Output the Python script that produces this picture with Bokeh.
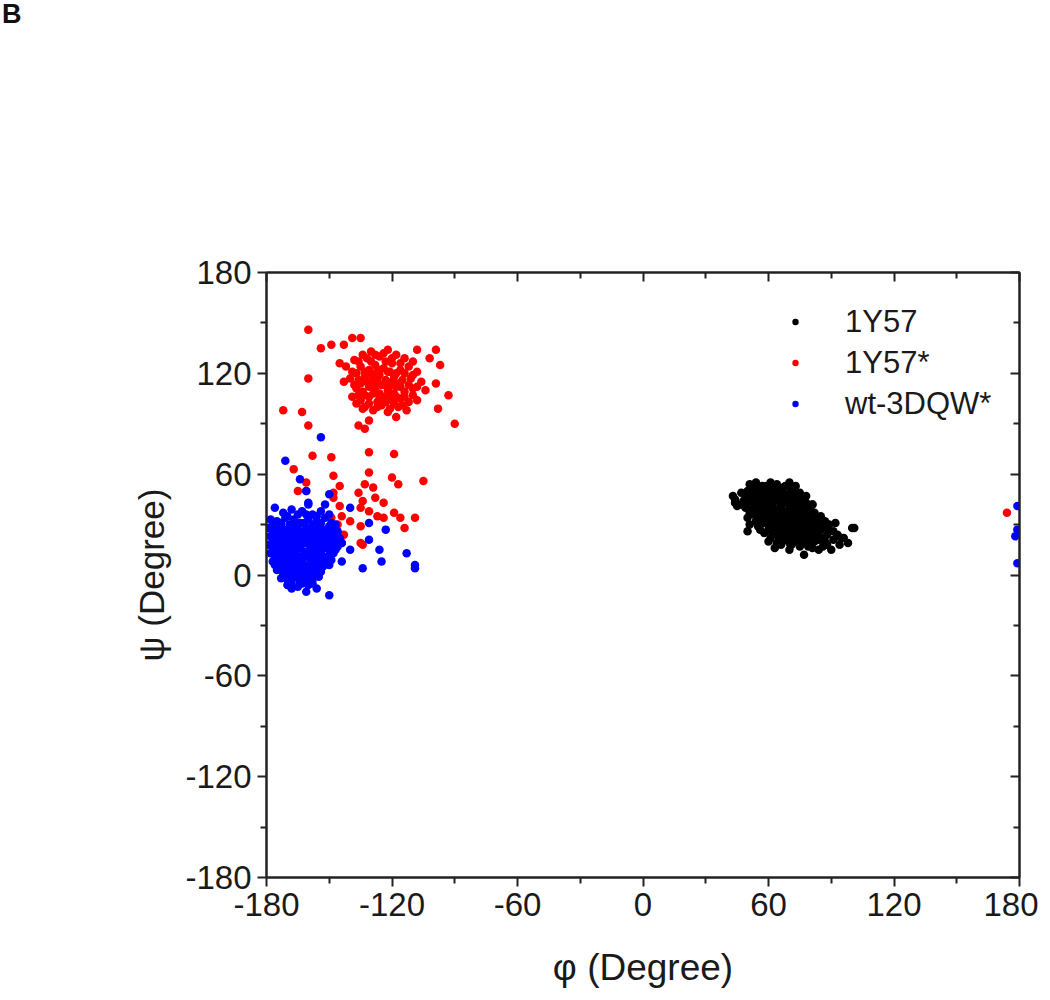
from bokeh.plotting import figure
from bokeh.models import (Range1d, LinearAxis, FixedTicker, Legend, LegendItem,
                          CustomJSTickFormatter, Div)
from bokeh.layouts import column
from bokeh.embed import file_html
from bokeh.resources import INLINE

# ---------------- data (phi, psi in degrees) ----------------
black_phi = [51,54,57,61,64,67,70,73,
             47,50,53,55,58,60,63,66,69,71,75,78,
             44,48,51,53,56,59,61,63,65,68,70,72,75,78,81,
             45,49,52,54,57,59,62,64,66,68,70,72,74,76,79,82,
             50,53,56,58,60,62,65,67,69,71,73,75,77,80,84,87,
             51,55,58,61,63,66,68,70,72,74,76,79,82,85,89,92,
             50,58,62,65,67,70,72,74,77,80,83,86,93,101,
             60,64,68,71,73,76,79,82,88,98,
             63,70,77,84,90,
             60,62,58,66,64,67,69,71,73,63,61,57,55,65,71,76,74,78,80,68,66,62,59,72,56,54,70,75,85,82,
             43,44,81,93,100,96,
             52,56,59,62,65,68,72,
             49,52,57,61,64,67,70,74,77,
             47,50,55,58,62,66,69,73,77,80,
             51,55,58,61,63,66,70,72,75,78,81,85,
             54,57,60,64,67,70,73,75,78,81,84,88,
             56,60,64,67,69,72,75,78,81,84,88,91,
             61,65,69,73,76,79,84,87,91,95,
             66,70,75,81,86,94]
black_psi = [54,55,53,55,54,52,55,53,
             49,50,51,48,50,51,49,50,48,51,49,47,
             45,44,46,43,45,46,43,46,44,45,42,46,44,43,42,
             41,40,39,41,38,40,41,38,40,37,40,38,41,38,39,37,
             34,36,35,33,36,34,35,33,36,34,32,35,33,34,33,32,
             30,29,31,29,31,30,28,31,29,27,30,28,29,27,30,31,
             26,25,24,26,23,25,24,22,25,23,24,22,24,28,
             20,19,21,18,20,19,17,20,18,19,
             16,15,12,15,15,
             45,47,42,42,36,38,32,27,36,28,38,47,52,48,44,27,33,36,31,33,28,32,37,42,40,46,22,24,30,26,
             47,43,42,23,28,22,
             52,51,53,52,51,53,50,
             47,48,48,47,46,47,46,47,45,
             42,43,43,44,43,44,43,43,41,40,
             37,38,39,36,39,37,38,35,37,35,36,35,
             32,33,31,33,31,33,30,32,31,32,31,28,
             27,27,29,26,27,27,28,26,27,26,24,26,
             22,22,23,23,22,21,21,20,21,22,
             18,19,17,16,17,18]

red_phi = [-138,-134,-130,-126,-122,-118,-114,-110,
           -142,-139,-135,-131,-128,-124,-120,-116,-112,-108,
           -140,-136,-133,-129,-126,-123,-119,-115,-111,-106,
           -137,-134,-131,-128,-125,-122,-118,-114,-110,-104,
           -139,-135,-131,-127,-124,-120,-116,-112,-108,
           -133,-129,-125,-121,-117,-113,
           -127,-121,-117,-130,-123,-126,-119,-132,-128,-120,
           -136,-132,-128,-124,-120,-116,
           -137,-133,-130,-126,-122,-118,-114,-110,
           -138,-135,-130,-127,-123,-120,-116,-112,-108,
           -136,-133,-129,-126,-122,-118,-114,-110,
           -131,-127,-123,-119,-115,
           -160,-154,-149,-143,-139,-135,-108,-99,-102,-97,-99,-93,-98,-90,
           -160,-145,-143,-172,-163,-160,-137,-134,-122,-118,-136,-131,-133,
           -158,-149,-131,-119,-167,-148,-131,-120,-117,-105,-165,-161,-145,
           -136,-133,-129,-148,-134,-128,-124,-135,-131,-127,-124,-119,-116,
           -109,-114,-140,-135,-144,-149,-144,-134,-161,-145,-148,-135,
           -146,-143,-144,174]
red_psi = [128,131,133,130,134,131,129,127,
           124,121,124,122,125,123,126,122,124,121,
           117,116,118,117,119,116,118,116,117,115,
           111,109,112,110,113,110,112,109,111,110,
           106,104,106,103,106,104,105,103,104,
           100,98,101,99,100,98,
           114,121,114,127,127,108,108,115,120,113,
           127,129,131,132,129,126,
           120,121,120,122,121,120,120,119,
           113,114,114,116,113,115,112,113,112,
           107,107,108,105,107,106,106,107,
           102,100,103,102,101,
           146,135,137,137,141,141,134,134,129,125,114,107,99,90,
           117,126,115,98,97,89,102,99,97,94,89,92,87,
           71,70,73,72,63,59,61,58,54,56,50,55,53,
           49,54,52,46,44,46,43,40,38,35,34,37,34,
           34,28,32,29,35,34,23,18,50,41,49,19,
           30,24,19,37]

blue_phi = [-172,-168,-163,-158,-154,
            -178,-175,-171,-167,-164,-160,-156,-152,-149,
            -179,-176,-173,-170,-167,-164,-161,-158,-155,-152,-149,-146,
            -178,-175,-172,-169,-166,-163,-160,-157,-154,-151,-148,-145,
            -179,-176,-173,-170,-167,-164,-161,-158,-155,-152,-149,-146,
            -178,-175,-172,-169,-166,-163,-160,-157,-154,-151,-148,
            -177,-174,-171,-168,-165,-162,-159,-156,-153,-150,
            -175,-172,-169,-166,-163,-160,-157,-154,
            -173,-170,-167,-164,-161,-158,-155,
            -170,-165,-160,-156,
            -162,-165,-168,-159,-170,-156,-163,-153,-174,-150,
            -170,-165,-161,-156,
            -177,-173,-169,-166,-162,-158,-154,-150,-147,
            -177,-174,-171,-168,-165,-162,-159,-156,-153,-150,-147,
            -177,-174,-171,-168,-165,-162,-159,-156,-153,-150,-147,-144,
            -177,-174,-171,-168,-165,-162,-159,-156,-153,-150,-147,
            -176,-173,-170,-167,-164,-161,-158,-155,-152,-149,
            -174,-171,-168,-165,-162,-159,-156,-153,
            -172,-169,-166,-163,-160,-157,
            -168,-163,-158,
            -176,-160,-150,
            -171,-154,-164,-161,-160,-150,-152,-140,-131,-123,-131,-140,-126,
            -113,-125,-109,-109,-134,-144,-150,-161,-168,-176,
            179,179,178,179]
blue_psi = [37,39,38,36,38,
            33,32,34,33,31,33,32,34,31,
            28,27,29,27,28,26,28,27,29,27,28,26,
            23,22,24,22,23,21,24,22,23,21,23,22,
            18,17,19,17,18,16,19,17,18,16,18,17,
            13,12,14,12,13,11,14,12,13,11,13,
            8,7,9,7,8,6,9,7,8,6,
            3,2,4,2,3,1,4,2,
            -2,-3,-1,-4,-2,-3,-1,
            -6,-7,-6,-8,
            21,27,15,13,21,25,8,19,15,25,
            35,36,36,35,
            30,31,30,30,31,30,31,29,30,
            25,25,26,25,25,24,25,24,25,23,24,
            20,20,21,20,20,19,20,20,21,20,20,19,
            15,15,16,14,16,14,16,15,16,15,15,
            10,10,11,10,10,11,10,10,10,9,
            5,5,5,5,4,5,5,5,
            0,0,-1,0,-1,0,
            -4,-5,-5,
            40,42,36,
            68,82,57,50,43,48,42,40,31,27,21,15,15,
            13,8,6,4,4,8,-12,-10,-8,6,
            41,27,23,7]

labels = ["1Y57", "1Y57*", "wt-3DQW*"]
colors = ["#000000", "#ff0000", "#0000ff"]
x_ticks = [-180, -120, -60, 0, 60, 120, 180]
y_ticks = [-180, -120, -60, 0, 60, 120, 180]
minor_ticks = [-150, -90, -30, 30, 90, 150]
panel_letter = "B"

# ---------------- figure ----------------
FONT = "Liberation Sans"
TXT = "#1a1a1a"
DIV_H = 30

p = figure(width=1038, height=993 - DIV_H, output_backend="svg", toolbar_location=None,
           x_range=Range1d(-180, 180), y_range=Range1d(-180, 180),
           min_border_left=266, min_border_top=272 - DIV_H, min_border_right=19,
           min_border_bottom=116, x_axis_location=None, y_axis_location=None)
p.xgrid.visible = False
p.ygrid.visible = False
p.outline_line_color = "#222222"
p.outline_line_width = 2
p.background_fill_color = "white"
p.border_fill_color = "white"

def make_axis(loc, labels_on):
    ax = LinearAxis(ticker=FixedTicker(ticks=x_ticks if loc in ("below", "above") else y_ticks,
                                       minor_ticks=minor_ticks))
    ax.axis_line_width = 2
    ax.axis_line_color = "#222222"
    ax.major_tick_line_width = 2
    ax.minor_tick_line_width = 2
    ax.major_tick_line_color = "#222222"
    ax.minor_tick_line_color = "#222222"
    if labels_on:
        ax.major_tick_out = 9
        ax.major_tick_in = 0
        ax.minor_tick_out = 6
        ax.minor_tick_in = 0
        ax.formatter = CustomJSTickFormatter(code="return tick.toString()")
        ax.major_label_text_font = FONT
        ax.major_label_text_font_size = "33px"
        ax.major_label_text_color = TXT
        ax.major_label_standoff = 6
        ax.axis_label_text_font = FONT
        ax.axis_label_text_font_style = "normal"
        ax.axis_label_text_color = TXT
    else:
        ax.major_tick_out = 0
        ax.major_tick_in = 9
        ax.minor_tick_out = 0
        ax.minor_tick_in = 6
        ax.formatter = CustomJSTickFormatter(code="return ''")
        ax.major_label_standoff = 0
    p.add_layout(ax, loc)
    return ax

xb = make_axis("below", True)
xb.axis_label = "φ (Degree)"
xb.axis_label_text_font_size = "37px"
xb.axis_label_standoff = 28
yl = make_axis("left", True)
yl.axis_label = "ψ (Degree)"
yl.axis_label_text_font_size = "35px"
yl.axis_label_standoff = 11
make_axis("above", False)
make_axis("right", False)

MS = 8.5
r_black = p.scatter(black_phi, black_psi, size=MS, color=colors[0], line_color=None)
r_red = p.scatter(red_phi, red_psi, size=MS, color=colors[1], line_color=None)
r_blue = p.scatter(blue_phi, blue_psi, size=MS, color=colors[2], line_color=None)

legend = Legend(items=[LegendItem(label=labels[0], renderers=[r_black]),
                       LegendItem(label=labels[1], renderers=[r_red]),
                       LegendItem(label=labels[2], renderers=[r_blue])],
                location=(521, 453), orientation="vertical",
                padding=0, margin=0, spacing=0,
                glyph_width=16, glyph_height=41, label_height=41,
                label_standoff=42,
                label_text_font=FONT, label_text_font_size="31px",
                label_text_color=TXT,
                border_line_color=None, background_fill_alpha=0)
p.add_layout(legend, "center")

panel_label = Div(
    text=('<div style="font-family:\'Liberation Sans\',Arial,sans-serif;'
          'font-weight:bold;font-size:27px;line-height:27px;color:#111111;'
          'margin:0;padding:1px 0 0 2px">'
          + panel_letter + '</div>'),
    width=60, height=DIV_H, margin=0)

layout = column(panel_label, p, spacing=0)

open("out.html", "w").write(file_html(layout, INLINE))
